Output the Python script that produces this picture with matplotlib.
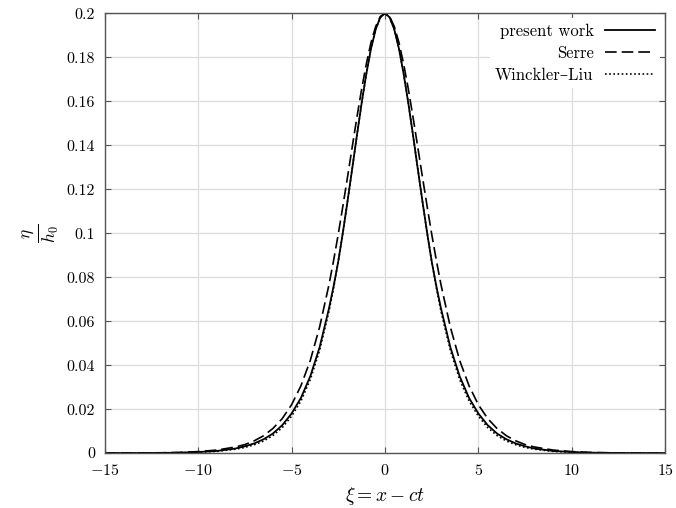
import matplotlib
matplotlib.use("Agg")
import matplotlib.pyplot as plt

plt.rcParams['font.family'] = ['cmr10', 'DejaVu Serif']
plt.rcParams['mathtext.fontset'] = 'cm'
plt.rcParams['axes.formatter.use_mathtext'] = True

# values (symmetric solitary wave profiles)
xi = [-15, -13, -12, -11, -10, -9, -8, -7.5, -7, -6.5, -6, -5.5, -5, -4.5, -4,
      -3.5, -3, -2.75, -2.5, -2.25, -2, -1.75, -1.5, -1.25, -1, -0.75, -0.5, -0.25,
      0,
      0.25, 0.5, 0.75, 1, 1.25, 1.5, 1.75, 2, 2.25, 2.5, 2.75, 3, 3.5,
      4, 4.5, 5, 5.5, 6, 6.5, 7, 7.5, 8, 9, 10, 11, 12, 13, 15]

present = [0.00001, 0.00005, 0.0001, 0.0002, 0.0005, 0.0010, 0.0021, 0.0031, 0.0044,
           0.0063, 0.0089, 0.0127, 0.0180, 0.0251, 0.0349, 0.0481, 0.0657, 0.0759,
           0.0872, 0.1005, 0.1148, 0.1296, 0.1446, 0.1591, 0.1724, 0.1838, 0.1926,
           0.1981,
           0.2,
           0.1981, 0.1926, 0.1838, 0.1724, 0.1591, 0.1446, 0.1296, 0.1148, 0.1005,
           0.0872, 0.0759, 0.0657, 0.0481, 0.0349, 0.0251, 0.0180, 0.0127, 0.0089,
           0.0063, 0.0044, 0.0031, 0.0021, 0.0010, 0.0005, 0.0002, 0.0001, 0.00005,
           0.00001]

serre = [0.00002, 0.00008, 0.00017, 0.0003, 0.0007, 0.0014, 0.0028, 0.0039, 0.0056,
         0.0079, 0.0112, 0.0157, 0.0220, 0.0306, 0.0421, 0.0573, 0.0765, 0.0876,
         0.0996, 0.1125, 0.1258, 0.1394, 0.1528, 0.1655, 0.1769, 0.1866, 0.1939,
         0.1985,
         0.2,
         0.1985, 0.1939, 0.1866, 0.1769, 0.1655, 0.1528, 0.1394, 0.1258, 0.1125,
         0.0996, 0.0876, 0.0765, 0.0573, 0.0421, 0.0306, 0.0220, 0.0157, 0.0112,
         0.0079, 0.0056, 0.0039, 0.0028, 0.0014, 0.0007, 0.0003, 0.00017, 0.00008,
         0.00002]

winckler_liu = [0.00001, 0.00004, 0.00008, 0.0002, 0.0004, 0.0008, 0.0018, 0.0026,
                0.0038, 0.0055, 0.0080, 0.0116, 0.0168, 0.0237, 0.0334, 0.0467, 0.0644,
                0.0752, 0.0872, 0.1005, 0.1148, 0.1296, 0.1446, 0.1591, 0.1724, 0.1838,
                0.1926, 0.1981,
                0.2,
                0.1981, 0.1926, 0.1838, 0.1724, 0.1591, 0.1446, 0.1296, 0.1148, 0.1005,
                0.0872, 0.0752, 0.0644, 0.0467, 0.0334, 0.0237, 0.0168, 0.0116, 0.0080,
                0.0055, 0.0038, 0.0026, 0.0018, 0.0008, 0.0004, 0.0002, 0.00008,
                0.00004, 0.00001]

xticks = [-15, -10, -5, 0, 5, 10, 15]
yticks = [0, 0.02, 0.04, 0.06, 0.08, 0.1, 0.12, 0.14, 0.16, 0.18, 0.2]
ytick_labels = ['0', '0.02', '0.04', '0.06', '0.08', '0.1', '0.12', '0.14',
                '0.16', '0.18', '0.2']

fig = plt.figure(figsize=(6.76, 5.08), dpi=100)
ax = fig.add_axes([0.155, 0.108, 0.829, 0.866])

ax.plot(xi, present, color='black', lw=1.3, label='present work')
ax.plot(xi, serre, color='black', lw=1.2, dashes=(7, 3), label='Serre')
ax.plot(xi, winckler_liu, color='black', lw=1.2, dashes=(1, 1.5),
        label='Winckler\u2013Liu')

ax.set_xlim(-15, 15)
ax.set_ylim(0, 0.2)
ax.set_xticks(xticks)
ax.set_xticklabels([r'$%d$' % t if t >= 0 else r'$-%d$' % -t for t in xticks])
ax.set_yticks(yticks)
ax.set_yticklabels(ytick_labels)
ax.grid(True, color='#dcdcdc', lw=0.9)
ax.set_axisbelow(True)
ax.tick_params(direction='in', top=True, right=True, length=4, width=0.8,
               color='#555555', labelsize=11.5, pad=7)
for s in ax.spines.values():
    s.set_color('#555555')
    s.set_linewidth(1.0)

ax.set_xlabel(r'$\xi = x - ct$', fontsize=14, labelpad=5)
ax.set_ylabel(r'$\frac{\eta}{h_0}$', fontsize=18, labelpad=5)

leg = ax.legend(loc='upper right', markerfirst=False, frameon=True, fontsize=12,
                handlelength=3.0, borderaxespad=0.3, labelspacing=0.42,
                handletextpad=0.7, borderpad=0.3)
leg.get_frame().set_edgecolor('none')
leg.get_frame().set_facecolor('white')
leg.get_frame().set_alpha(1.0)
for t in leg.get_texts():
    t.set_ha('right')
leg._legend_box.align = 'right'

fig.savefig('out.png', dpi=100)
